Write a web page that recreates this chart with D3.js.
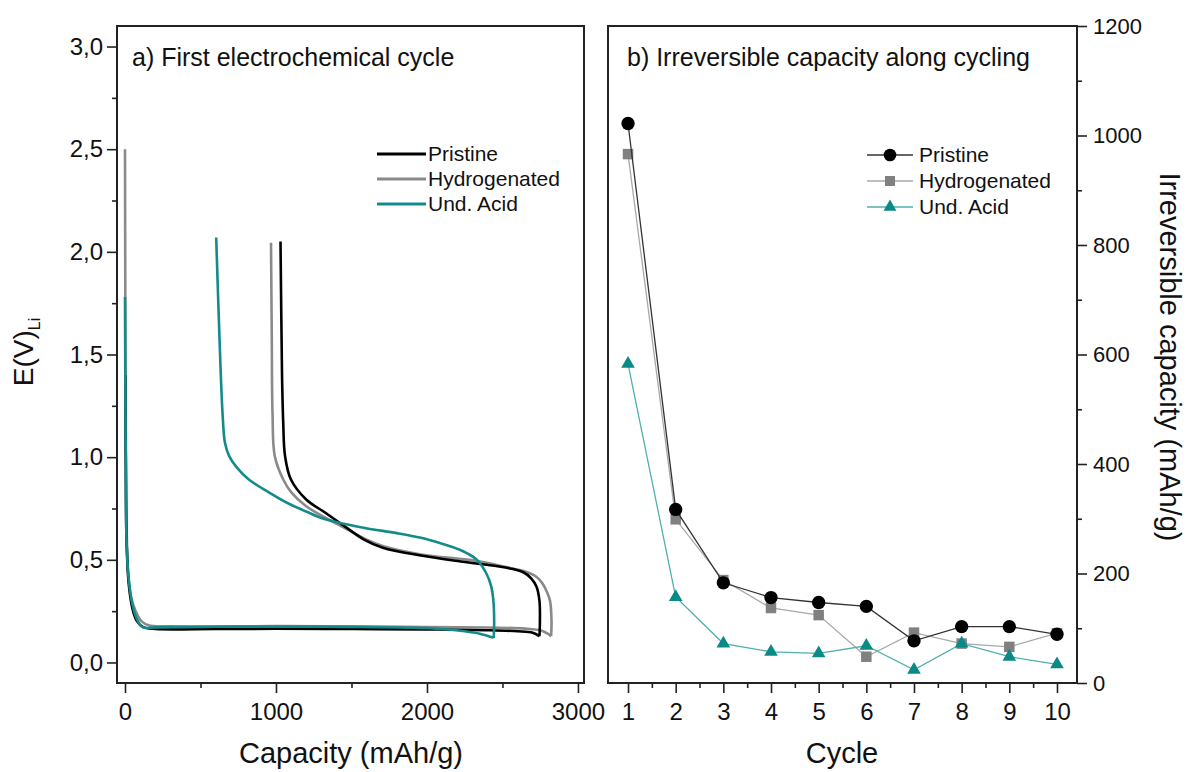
<!DOCTYPE html>
<html>
<head>
<meta charset="utf-8">
<style>
  body { margin: 0; background: #fff; }
  text { font-family: Arial, "Liberation Sans", sans-serif; fill: #111; }
  .tick line { stroke: #222; stroke-width: 1.6; }
</style>
</head>
<body>
<svg id="chart" width="1190" height="772"></svg>
<script src="https://cdn.jsdelivr.net/npm/d3@7"></script>
<script>
// ---- data: panel a, [capacity mAh/g, E V] ----
const seriesNames = ["Pristine", "Hydrogenated", "Und. Acid"];

const pristineDischarge = [[2,1.4],[5,1.0],[10,0.6],[25,0.38],[50,0.26],[80,0.2],[120,0.172],[200,0.163],[600,0.163],[1000,0.164],[1500,0.163],[2000,0.161],[2400,0.157],[2600,0.152],[2700,0.145],[2745,0.128]];
const pristineCharge = [[2745,0.128],[2748,0.2],[2745,0.3],[2725,0.37],[2690,0.41],[2644,0.437],[2550,0.458],[2467,0.469],[2213,0.493],[1960,0.521],[1707,0.559],[1580,0.6],[1453,0.664],[1327,0.729],[1200,0.794],[1099,0.891],[1060,1.005],[1048,1.168],[1040,1.4],[1035,1.7],[1030,2.05]];

const hydroDischarge = [[0,2.5],[2,1.8],[5,1.2],[10,0.7],[20,0.45],[40,0.32],[70,0.25],[110,0.2],[160,0.18],[300,0.176],[1000,0.177],[1500,0.176],[2000,0.173],[2400,0.17],[2650,0.165],[2760,0.155],[2800,0.14],[2822,0.128]];
const hydroCharge = [[2822,0.128],[2825,0.2],[2815,0.3],[2797,0.34],[2760,0.39],[2720,0.42],[2650,0.443],[2594,0.453],[2340,0.493],[1960,0.526],[1707,0.567],[1580,0.605],[1453,0.656],[1327,0.705],[1200,0.761],[1100,0.83],[1048,0.891],[992,1.005],[977,1.216],[972,1.6],[967,2.044]];

const acidDischarge = [[0,1.78],[2,1.4],[5,1.0],[10,0.6],[25,0.4],[50,0.28],[80,0.21],[110,0.175],[140,0.168],[200,0.171],[600,0.174],[1000,0.175],[1500,0.173],[1900,0.169],[2100,0.163],[2250,0.152],[2350,0.14],[2442,0.12]];
const acidCharge = [[2442,0.12],[2445,0.2],[2440,0.3],[2425,0.372],[2391,0.437],[2328,0.502],[2270,0.53],[2213,0.55],[2100,0.578],[1960,0.607],[1800,0.63],[1580,0.656],[1327,0.697],[1200,0.735],[1073,0.778],[950,0.83],[820,0.891],[740,0.95],[690,1.005],[662,1.07],[647,1.2],[632,1.45],[618,1.75],[604,2.07]];

// ---- data: panel b, irreversible capacity per cycle ----
const cycles = [1,2,3,4,5,6,7,8,9,10];
const pristineIrr = [1022,317,183,156,147,140,77,103,103,89];
const hydroIrr = [966,299,188,137,124,48,92,72,66,91];
const acidIrr = [583,157,72,57,54,68,24,72,48,34];

const yTicksA = [0,0.5,1,1.5,2,2.5,3];
const xTicksA = [0,1000,2000,3000];

const svg = d3.select("#chart");
const teal = "#138b8a";

// ---------- panel a ----------
const xA = d3.scaleLinear().domain([-53, 3040]).range([117, 584]);
const yA = d3.scaleLinear().domain([-0.1, 3.1]).range([683, 26]);
const fmtComma = d => d3.format(".1f")(d).replace(".", ",");

let gA = svg.append("g");

gA.append("g").attr("transform", "translate(117,0)")
  .call(d3.axisLeft(yA).tickValues(d3.range(0.25, 3.0, 0.5)).tickSize(5).tickFormat(""))
  .call(g => g.select(".domain").remove());
gA.append("g").attr("transform", "translate(117,0)")
  .call(d3.axisLeft(yA).tickValues(yTicksA).tickSize(10).tickPadding(4).tickFormat(fmtComma))
  .call(g => g.select(".domain").remove())
  .selectAll("text").style("font-size", "24px");

gA.append("g").attr("transform", "translate(0,683)")
  .call(d3.axisBottom(xA).tickValues([500,1500,2500]).tickSize(5).tickFormat(""))
  .call(g => g.select(".domain").remove());
gA.append("g").attr("transform", "translate(0,683)")
  .call(d3.axisBottom(xA).tickValues(xTicksA).tickSize(10).tickPadding(10).tickFormat(d3.format("d")))
  .call(g => g.select(".domain").remove())
  .selectAll("text").style("font-size", "24px");

let lineA = d3.line().x(d => xA(d[0])).y(d => yA(d[1])).curve(d3.curveCatmullRom.alpha(0.5));

let curvesA = [
  {name: "Hydrogenated", color: "#8a8a8a", parts: [hydroDischarge, hydroCharge]},
  {name: "Pristine", color: "#000", parts: [pristineDischarge, pristineCharge]},
  {name: "Und. Acid", color: teal, parts: [acidDischarge, acidCharge]}
];
for (let c of curvesA) {
  for (let p of c.parts) {
    gA.append("path").attr("d", lineA(p)).attr("fill", "none")
      .attr("stroke", c.color).attr("stroke-width", 2.6).attr("stroke-linejoin", "round");
  }
}

gA.append("rect").attr("x", 117).attr("y", 26).attr("width", 467).attr("height", 657)
  .attr("fill", "none").attr("stroke", "#222").attr("stroke-width", 2);

gA.append("text").attr("x", 132).attr("y", 66).style("font-size", "25px").text("a) First electrochemical cycle");

// legend a
let legA = [["Pristine", "#000"], ["Hydrogenated", "#8a8a8a"], ["Und. Acid", teal]];
legA.forEach((d, i) => {
  let y = 154 + i * 25;
  gA.append("line").attr("x1", 377).attr("x2", 426).attr("y1", y).attr("y2", y)
    .attr("stroke", d[1]).attr("stroke-width", 3.2);
  gA.append("text").attr("x", 428).attr("y", y + 7).style("font-size", "21px").text(d[0]);
});

gA.append("text").attr("x", 351).attr("y", 763).attr("text-anchor", "middle")
  .style("font-size", "29px").text("Capacity (mAh/g)");

let yLab = gA.append("text").attr("transform", "translate(33,352) rotate(-90)")
  .attr("text-anchor", "middle").style("font-size", "28px");
yLab.append("tspan").text("E(V)");
yLab.append("tspan").attr("dy", 7).style("font-size", "16px").text("Li");

// ---------- panel b ----------
const xB = d3.scaleLinear().domain([0.58, 10.42]).range([608, 1077]);
const yB = d3.scaleLinear().domain([0, 1200]).range([683, 26]);

let gB = svg.append("g");

gB.append("g").attr("transform", "translate(0,683)")
  .call(d3.axisBottom(xB).tickValues(d3.range(1.5, 10, 1)).tickSize(5).tickFormat(""))
  .call(g => g.select(".domain").remove());
gB.append("g").attr("transform", "translate(0,683)")
  .call(d3.axisBottom(xB).tickValues(cycles).tickSize(10).tickPadding(10).tickFormat(d3.format("d")))
  .call(g => g.select(".domain").remove())
  .selectAll("text").style("font-size", "24px");

gB.append("g").attr("transform", "translate(1077,0)")
  .call(d3.axisRight(yB).tickValues(d3.range(100, 1200, 200)).tickSize(5).tickFormat(""))
  .call(g => g.select(".domain").remove());
gB.append("g").attr("transform", "translate(1077,0)")
  .call(d3.axisRight(yB).tickValues(d3.range(0, 1201, 200)).tickSize(10).tickPadding(6).tickFormat(d3.format("d")))
  .call(g => g.select(".domain").remove())
  .selectAll("text").style("font-size", "22px");

let seriesB = [
  {name: "Hydrogenated", vals: hydroIrr, line: "#a8a8a8", fill: "#808080", sym: d3.symbolSquare, size: 110},
  {name: "Und. Acid", vals: acidIrr, line: "#4fb0ae", fill: "#0a8a87", sym: d3.symbolTriangle, size: 80},
  {name: "Pristine", vals: pristineIrr, line: "#333", fill: "#000", sym: d3.symbolCircle, size: 140}
];
let lineB = d3.line().x(d => xB(d[0])).y(d => yB(d[1]));
for (let s of seriesB) {
  let pts = cycles.map((c, i) => [c, s.vals[i]]);
  gB.append("path").attr("d", lineB(pts)).attr("fill", "none")
    .attr("stroke", s.line).attr("stroke-width", 1.3);
  gB.selectAll(null).data(pts).enter().append("path")
    .attr("transform", d => `translate(${xB(d[0])},${yB(d[1])})`)
    .attr("d", d3.symbol().type(s.sym).size(s.size))
    .attr("fill", s.fill);
}

gB.append("rect").attr("x", 608).attr("y", 26).attr("width", 469).attr("height", 657)
  .attr("fill", "none").attr("stroke", "#222").attr("stroke-width", 2);

gB.append("text").attr("x", 627).attr("y", 66).style("font-size", "25px").text("b) Irreversible capacity along cycling");

// legend b
let legB = [seriesB[2], seriesB[0], seriesB[1]];
legB.forEach((s, i) => {
  let y = 155 + i * 26;
  gB.append("line").attr("x1", 867).attr("x2", 913).attr("y1", y).attr("y2", y)
    .attr("stroke", s.line).attr("stroke-width", 1.3);
  gB.append("path").attr("transform", `translate(890,${y})`)
    .attr("d", d3.symbol().type(s.sym).size(s.size * 0.9)).attr("fill", s.fill);
  gB.append("text").attr("x", 919).attr("y", y + 7).style("font-size", "21px").text(s.name);
});

gB.append("text").attr("x", 842).attr("y", 763).attr("text-anchor", "middle")
  .style("font-size", "29px").text("Cycle");

gB.append("text").attr("transform", "translate(1160,357) rotate(90)")
  .attr("text-anchor", "middle").style("font-size", "29px").text("Irreversible capacity (mAh/g)");
</script>
</body>
</html>
